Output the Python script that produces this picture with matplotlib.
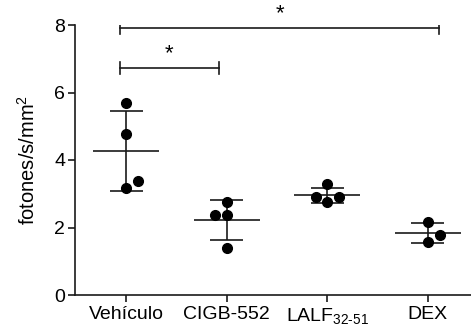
import matplotlib
matplotlib.use("Agg")
import matplotlib.pyplot as plt
import numpy as np

plt.rcParams['font.family'] = ['Liberation Sans', 'DejaVu Sans']
plt.rcParams['mathtext.fontset'] = 'custom'
plt.rcParams['mathtext.rm'] = 'Liberation Sans'
plt.rcParams['mathtext.it'] = 'Liberation Sans'
plt.rcParams['mathtext.default'] = 'regular'

categories = ['Vehículo', 'CIGB-552', r'LALF$_{32\text{-}51}$', 'DEX']
vehiculo = [5.68, 4.77, 3.18, 3.38]
cigb552 = [2.76, 2.37, 2.37, 1.38]
lalf = [3.28, 2.90, 2.90, 2.76]
dex = [2.17, 1.78, 1.58]
groups = [vehiculo, cigb552, lalf, dex]
yticks = [0, 2, 4, 6, 8]
ylabel = 'fotones/s/mm$^2$'
sig_pairs = [(0, 3), (0, 1)]
sig_heights = [7.9, 6.72]

jitter = [[0, 0, 0, 0.12], [0, -0.12, 0, 0], [0, -0.11, 0.12, 0], [0, 0.12, 0]]

fig = plt.figure(figsize=(4.71, 3.28), dpi=100)
ax = fig.add_axes([75/471, 33/328, (471-75)/471, (295-25)/328])
lc = '#1a1a1a'
for i, vals in enumerate(groups):
    v = np.array(vals)
    m = v.mean()
    s = v.std(ddof=1)
    xs = i + np.array(jitter[i])
    ax.plot(xs, v, 'o', color='black', markersize=7, zorder=3)
    ax.hlines(m, i - 0.33, i + 0.33, color=lc, lw=1.2)
    ax.vlines(i, m - s, m + s, color=lc, lw=1.2)
    ax.hlines([m - s, m + s], i - 0.165, i + 0.165, color=lc, lw=1.2)

for (a, b), h in zip(sig_pairs, sig_heights):
    x0, x1 = a - 0.06, b + 0.11 if b == 3 else b - 0.08
    ax.plot([x0, x1], [h, h], color=lc, lw=1.2)
    ax.plot([x0, x0], [h - 0.17, h + 0.17], color=lc, lw=1.2)
    ax.plot([x1, x1], [h - 0.17, h + 0.17], color=lc, lw=1.2)
    ax.text((x0 + x1) / 2, h + 0.12, '*', ha='center', va='bottom', fontsize=16)

ax.set_xlim(-0.51, 3.43)
ax.set_ylim(0, 8)
ax.set_yticks(yticks)
ax.set_xticks(range(len(categories)))
ax.set_xticklabels(categories)
ax.set_ylabel(ylabel, fontsize=14.5, labelpad=11)
for sp in ['top', 'right']:
    ax.spines[sp].set_visible(False)
for sp in ['left', 'bottom']:
    ax.spines[sp].set_linewidth(1.2)
    ax.spines[sp].set_color(lc)
ax.tick_params(axis='both', labelsize=14, width=1.2, length=5, color=lc, pad=3)
ax.tick_params(axis='y', pad=2)
ax.patch.set_alpha(0)
fig.savefig('out.png', dpi=100)
